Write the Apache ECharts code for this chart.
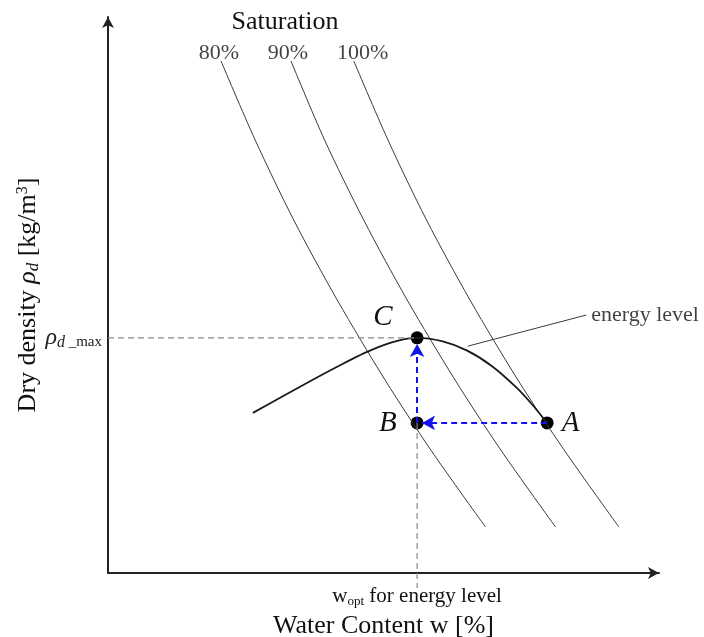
<!DOCTYPE html>
<html><head><meta charset="utf-8">
<script src="https://cdn.jsdelivr.net/npm/echarts@6/dist/echarts.min.js"></script>
<style>html,body{margin:0;padding:0;background:#fff}#c{width:704px;height:637px}</style>
</head><body><div id="c"></div>
<script>
// Saturation lines (arbitrary water-content / density units)
const sat80  = [[20.5,92.1],[26.7,77.9],[33.7,63.5],[41.6,49.1],[50.3,34.7],[58.6,22.1],[68.5,8.3]];
const sat90  = [[33.2,92.1],[39.3,77.9],[46.4,63.5],[54.3,49.1],[63.0,34.7],[71.3,22.1],[81.2,8.3]];
const sat100 = [[44.6,92.1],[50.8,77.9],[57.8,63.5],[65.7,49.1],[74.4,34.7],[82.8,22.1],[92.7,8.3]];
const satLabels = ['80%','90%','100%'];
// Compaction curve for the energy level
const compaction = [[26.3,28.8],[31.4,31.6],[36.5,34.4],[41.6,37.1],[46.6,39.6],[51.5,41.5],[56.1,42.3],[60.6,41.7],[65.2,40.0],[69.7,37.2],[74.2,33.3],[76.9,30.4],[79.7,27.0]];
// Points
const pointNames = ['A','B','C'];
const pointValues = [[79.7,27.0],[56.1,27.0],[56.1,42.3]];
const wOpt = 56.1;
const rhoMax = 42.3;
const arrowTipB = [57.0,27.0];
const arrowTipC = [56.1,41.2];
const energyLeader = [[65.3,40.8],[86.8,46.4]];
const wOptLow = -2.7;

const serif = 'Liberation Serif';
const chart = echarts.init(document.getElementById('c'));

const satSeries = [sat80, sat90, sat100].map((d,i)=>({
  type:'line', data:d, smooth:0.3, symbol:'none', silent:true,
  lineStyle:{color:'#3a3a3a', width:1}
}));

chart.setOption({
  animation:false,
  grid:{left:108, right:45, top:17, bottom:64, outerBoundsMode:'none', containLabel:false},
  graphic:[{type:'text', x:285, y:22, style:{text:'Saturation', font:'26px "Liberation Serif"', fill:'#111', align:'center', verticalAlign:'middle'}}],
  xAxis:{
    type:'value', min:0, max:100,
    name:'Water Content w [%]', nameLocation:'middle', nameGap:40, nameMoveOverlap:false,
    nameTextStyle:{fontFamily:serif, fontSize:26, color:'#111'},
    axisLine:{show:true, symbol:['none','arrow'], symbolSize:[9,11], lineStyle:{color:'#222', width:2}},
    axisTick:{show:false}, splitLine:{show:false},
    axisLabel:{customValues:[wOpt], margin:12, color:'#111', fontFamily:serif,
      formatter:()=>'{w|w}{s|opt}{w| for energy level}',
      rich:{w:{fontFamily:serif, fontSize:21, color:'#111'}, s:{fontFamily:serif, fontSize:13, color:'#111', padding:[10,0,0,0]}}}
  },
  yAxis:{
    type:'value', min:0, max:100,
    name:'Dry density {i|ρ}{d|d} [kg/m{u|3}]', nameLocation:'middle', nameGap:66, nameMoveOverlap:false,
    nameTextStyle:{fontFamily:serif, fontSize:26, color:'#111',
      rich:{i:{fontFamily:serif, fontSize:26, fontStyle:'italic', color:'#111'},
            d:{fontFamily:serif, fontSize:17, fontStyle:'italic', color:'#111', padding:[11,0,0,0]},
            u:{fontFamily:serif, fontSize:16, color:'#111', padding:[0,0,11,0]}}},
    axisLine:{show:true, symbol:['none','arrow'], symbolSize:[9,11], lineStyle:{color:'#222', width:2}},
    axisTick:{show:false}, splitLine:{show:false},
    axisLabel:{customValues:[rhoMax], margin:6,
      formatter:()=>'{r|ρ}{d|d}{m| _max}',
      rich:{r:{fontFamily:serif, fontSize:24, fontStyle:'italic', color:'#222'},
            d:{fontFamily:serif, fontSize:16, fontStyle:'italic', color:'#222', padding:[9,0,0,0]},
            m:{fontFamily:serif, fontSize:15, color:'#222', padding:[9,0,0,0]}}}
  },
  series:[
    ...satSeries,
    {type:'scatter', symbolSize:0, silent:true,
      data:[sat80[0],sat90[0],sat100[0]].map((p,i)=>({value:p, label:{formatter:satLabels[i], offset:[[-2,-3,9][i],3]}})),
      label:{show:true, position:'top', distance:0, fontFamily:serif, fontSize:22, color:'#111'}},
    {type:'line', data:compaction, smooth:0.3, symbol:'none', silent:true,
      lineStyle:{color:'#1a1a1a', width:1.8}},
    {type:'line', data:energyLeader, symbol:'none', silent:true, lineStyle:{color:'#3a3a3a', width:1}},
    {type:'scatter', symbolSize:0, silent:true,
      data:[{value:energyLeader[1]}],
      label:{show:true, position:'right', distance:5, formatter:'energy level', fontFamily:serif, fontSize:22, color:'#111'}},
    {type:'line', data:[[0,rhoMax],[wOpt,rhoMax]], symbol:'none', silent:true,
      lineStyle:{color:'#888', width:1.2, type:[6,4]}},
    {type:'line', data:[[wOpt,pointValues[1][1]],[wOpt,wOptLow]], symbol:'none', silent:true, clip:false,
      lineStyle:{color:'#888', width:1.2, type:[6,4]}},
    {type:'scatter', symbolSize:0, silent:true, data:[],
      markLine:{silent:true, symbol:['none','arrow'], symbolSize:[11,13], label:{show:false},
        lineStyle:{color:'#1212ee', width:2, type:[6,4]},
        data:[[{coord:pointValues[0]},{coord:arrowTipB}],[{coord:pointValues[1]},{coord:arrowTipC}]]}},
    {type:'scatter', symbol:'circle', symbolSize:13, silent:true, itemStyle:{color:'#000', opacity:1},
      data:pointValues.map((p,i)=>({value:p, name:pointNames[i],
        label:{position: i===0?'right':'left', offset: i===2?[-10,-20]:[i===1?-6:0,0]}})),
      label:{show:true, formatter:'{b}', distance:8, fontFamily:serif, fontSize:29, fontStyle:'italic', color:'#111'}}
  ]
});
</script></body></html>
